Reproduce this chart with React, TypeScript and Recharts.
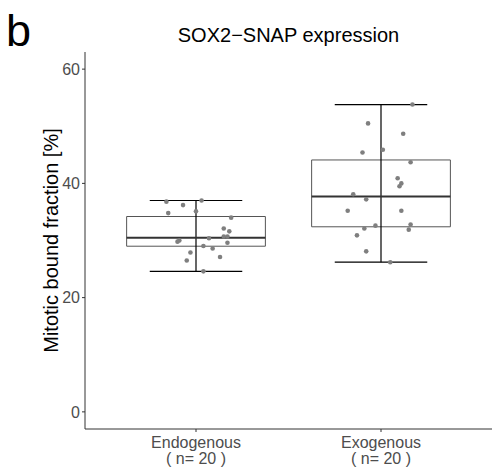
import React from 'react';
import { ComposedChart, Scatter, XAxis, YAxis, ReferenceArea, ReferenceLine } from 'recharts';

// box stats per group: [min, q1, median, q3, max]
const groups = ['Endogenous', 'Exogenous'];
const groupN = [20, 20];
const boxStats = [
  [24.6, 29.0, 30.5, 34.2, 37.0],
  [26.2, 32.4, 37.7, 44.1, 53.8],
];

// jittered points (x offset from group centre, value)
const endoJitter = [-0.16, -0.07, 0.03, -0.15, 0.0, 0.19, 0.15, 0.18, 0.15, 0.17, 0.07, -0.09, -0.1, 0.17, 0.04, 0.09, -0.03, 0.13, -0.05, 0.04];
const endoValues = [36.8, 36.2, 37.0, 34.8, 35.1, 34.0, 32.1, 31.6, 30.7, 30.7, 30.4, 30.0, 29.8, 29.6, 29.05, 28.6, 27.9, 27.1, 26.5, 24.6];
const exoJitter = [0.17, -0.07, 0.12, -0.1, 0.01, 0.16, 0.09, 0.11, 0.1, -0.15, -0.08, -0.18, 0.11, 0.16, -0.03, -0.09, 0.15, -0.13, -0.08, 0.05];
const exoValues = [53.8, 50.5, 48.7, 45.4, 45.9, 43.7, 40.9, 40.0, 39.5, 38.1, 37.2, 35.2, 35.2, 32.8, 32.6, 32.1, 31.9, 30.9, 28.1, 26.2];

const yTicks = [0, 20, 40, 60];

const points = [
  ...endoValues.map((v, i) => ({ x: 1 + endoJitter[i], y: v })),
  ...exoValues.map((v, i) => ({ x: 2 + exoJitter[i], y: v })),
];

const BOX_HALF = 0.375;
const CAP_HALF = 0.25;

function XTick(props: any) {
  const { x, y, payload } = props;
  const i = payload.value - 1;
  return (
    <g transform={`translate(${x},${y})`}>
      <text textAnchor="middle" fill="#4d4d4d" fontSize={16} fontFamily="Liberation Sans, Arial, sans-serif">
        <tspan x={0} dy={14}>{groups[i]}</tspan>
        <tspan x={0} dy={16}>{`( n= ${groupN[i]} )`}</tspan>
      </text>
    </g>
  );
}

export default function App() {
  const font = 'Liberation Sans, Arial, sans-serif';
  return (
    <div style={{ position: 'absolute', left: 0, top: 0, width: 495, height: 468, background: '#fff', fontFamily: font }}>
      <div style={{ position: 'absolute', left: 6, top: 3, fontSize: 45, lineHeight: '56px', color: '#000' }}>b</div>
      <div style={{ position: 'absolute', left: 85, width: 407, top: 24, textAlign: 'center', fontSize: 20, color: '#000' }}>SOX2−SNAP expression</div>
      <ComposedChart width={495} height={468} margin={{ top: 52, right: 3, left: 0, bottom: 0 }}>
        <XAxis
          type="number"
          dataKey="x"
          domain={[0.4, 2.6]}
          ticks={[1, 2]}
          tick={<XTick />}
          tickSize={3}
          stroke="#333"
          tickLine={{ stroke: '#333' }}
          allowDataOverflow
          height={39}
        />
        <YAxis
          type="number"
          dataKey="y"
          domain={[-3, 63]}
          ticks={yTicks}
          tickSize={3}
          width={85}
          stroke="#333"
          tick={{ fill: '#4d4d4d', fontSize: 16, fontFamily: font }}
          allowDataOverflow
          label={{ value: 'Mitotic bound fraction [%]', angle: -90, position: 'insideLeft', dx: 46, fill: '#000', fontSize: 20, fontFamily: font, style: { textAnchor: 'middle' } }}
        />
        {boxStats.map((s, i) => (
          <ReferenceLine key={`v${i}`} segment={[{ x: i + 1, y: s[0] }, { x: i + 1, y: s[4] }]} stroke="#000" strokeWidth={1.2} />
        ))}
        {boxStats.map((s, i) => (
          <ReferenceLine key={`lo${i}`} segment={[{ x: i + 1 - CAP_HALF, y: s[0] }, { x: i + 1 + CAP_HALF, y: s[0] }]} stroke="#000" strokeWidth={1.2} />
        ))}
        {boxStats.map((s, i) => (
          <ReferenceLine key={`hi${i}`} segment={[{ x: i + 1 - CAP_HALF, y: s[4] }, { x: i + 1 + CAP_HALF, y: s[4] }]} stroke="#000" strokeWidth={1.2} />
        ))}
        {boxStats.map((s, i) => (
          <ReferenceArea key={`b${i}`} x1={i + 1 - BOX_HALF} x2={i + 1 + BOX_HALF} y1={s[1]} y2={s[3]} fill="none" fillOpacity={0} stroke="#555" strokeWidth={1} />
        ))}
        {boxStats.map((s, i) => (
          <ReferenceLine key={`m${i}`} segment={[{ x: i + 1 - BOX_HALF, y: s[2] }, { x: i + 1 + BOX_HALF, y: s[2] }]} stroke="#333" strokeWidth={2} />
        ))}
        <Scatter data={points} fill="#7f7f7f" isAnimationActive={false} shape={(p: any) => <circle cx={p.cx} cy={p.cy} r={2.3} fill="#7f7f7f" />} />
      </ComposedChart>
    </div>
  );
}
